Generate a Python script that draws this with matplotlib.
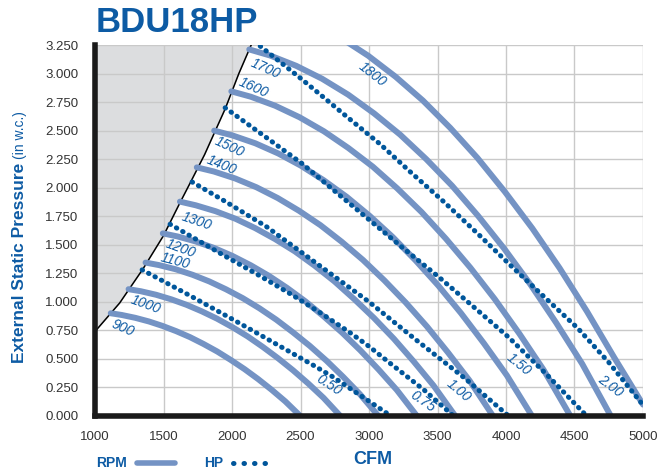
import matplotlib.pyplot as plt
from matplotlib.lines import Line2D

plt.rcParams['font.family'] = ['Liberation Sans', 'DejaVu Sans']

TXT_BLUE = '#0d5ba4'
RPM_COL = '#7493c4'
HP_COL = '#00569b'

# x ticks / y ticks
cfm_ticks = [1000, 1500, 2000, 2500, 3000, 3500, 4000, 4500, 5000]
p_ticks = [0.0, 0.25, 0.5, 0.75, 1.0, 1.25, 1.5, 1.75, 2.0, 2.25, 2.5, 2.75, 3.0, 3.25]

# operating limit (grey area lies above it)
limit_cfm = [1000, 1180, 1351, 1500, 1621, 1694, 1800, 1950, 2050, 2140]
limit_p = [0.74, 0.99, 1.29, 1.58, 1.87, 2.04, 2.29, 2.69, 3.00, 3.25]

# fan curves (RPM)
rpm900_cfm = [1115, 1195, 1294, 1394, 1493, 1593, 1693, 1792, 1892, 1991, 2091, 2190, 2290, 2389, 2499]
rpm900_p = [0.900, 0.885, 0.860, 0.828, 0.789, 0.743, 0.691, 0.631, 0.565, 0.491, 0.411, 0.324, 0.229, 0.128, 0.0]
rpm1000_cfm = [1245, 1334, 1446, 1557, 1668, 1779, 1890, 2002, 2113, 2224, 2335, 2446, 2558, 2669, 2791]
rpm1000_p = [1.111, 1.093, 1.062, 1.022, 0.974, 0.917, 0.853, 0.779, 0.698, 0.606, 0.507, 0.400, 0.283, 0.158, 0.0]
rpm1100_cfm = [1369, 1467, 1590, 1712, 1834, 1956, 2079, 2201, 2323, 2445, 2568, 2690, 2812, 2934, 3069]
rpm1100_p = [1.344, 1.322, 1.285, 1.237, 1.179, 1.110, 1.032, 0.943, 0.844, 0.733, 0.614, 0.484, 0.342, 0.191, 0.0]
rpm1200_cfm = [1495, 1602, 1735, 1869, 2002, 2136, 2269, 2402, 2536, 2669, 2803, 2936, 3070, 3203, 3350]
rpm1200_p = [1.600, 1.573, 1.529, 1.472, 1.403, 1.321, 1.228, 1.122, 1.004, 0.873, 0.731, 0.576, 0.407, 0.228, 0.0]
rpm1300_cfm = [1620, 1735, 1880, 2025, 2169, 2314, 2459, 2603, 2748, 2892, 3037, 3182, 3326, 3471, 3630]
rpm1300_p = [1.878, 1.846, 1.794, 1.728, 1.646, 1.550, 1.442, 1.317, 1.179, 1.024, 0.858, 0.676, 0.478, 0.267, 0.0]
rpm1400_cfm = [1743, 1867, 2023, 2178, 2334, 2489, 2645, 2800, 2956, 3112, 3267, 3423, 3578, 3734, 3905]
rpm1400_p = [2.178, 2.142, 2.081, 2.004, 1.909, 1.798, 1.672, 1.527, 1.367, 1.188, 0.995, 0.784, 0.554, 0.310, 0.0]
rpm1500_cfm = [1870, 2003, 2170, 2337, 2504, 2671, 2838, 3005, 3172, 3339, 3506, 3672, 3839, 4006, 4190]
rpm1500_p = [2.500, 2.458, 2.389, 2.300, 2.192, 2.064, 1.919, 1.753, 1.569, 1.364, 1.142, 0.900, 0.636, 0.356, 0.0]
rpm1600_cfm = [1995, 2137, 2315, 2493, 2671, 2849, 3028, 3206, 3384, 3562, 3740, 3918, 4096, 4274, 4470]
rpm1600_p = [2.844, 2.797, 2.718, 2.617, 2.494, 2.348, 2.184, 1.994, 1.786, 1.552, 1.299, 1.024, 0.724, 0.405, 0.0]
rpm1700_cfm = [2126, 2278, 2468, 2658, 2848, 3037, 3227, 3417, 3607, 3797, 3987, 4176, 4366, 4556, 4765]
rpm1700_p = [3.211, 3.158, 3.068, 2.954, 2.815, 2.651, 2.465, 2.251, 2.016, 1.752, 1.466, 1.156, 0.817, 0.457, 0.0]
rpm1800_cfm = [2794, 2994, 3194, 3393, 3593, 3792, 3992, 4192, 4391, 4591, 4790, 5000]
rpm1800_p = [3.312, 3.156, 2.972, 2.764, 2.524, 2.260, 1.964, 1.644, 1.296, 0.916, 0.512, 0.100]

# horsepower curves
hp050_cfm = [1344, 1500, 1700, 2000, 2250, 2425, 2600, 2740, 2900, 3000, 3160]
hp050_p = [1.28, 1.18, 1.05, 0.85, 0.68, 0.56, 0.44, 0.34, 0.21, 0.13, 0.0]
hp075_cfm = [1548, 1750, 1950, 2200, 2440, 2650, 2850, 3000, 3156, 3400, 3617]
hp075_p = [1.68, 1.54, 1.40, 1.23, 1.06, 0.90, 0.74, 0.61, 0.46, 0.23, 0.0]
hp100_cfm = [1709, 1950, 2250, 2500, 2750, 3000, 3340, 3700, 4019]
hp100_p = [2.05, 1.88, 1.66, 1.44, 1.22, 1.00, 0.67, 0.33, 0.0]
hp150_cfm = [1950, 2250, 2513, 2750, 3000, 3250, 3507, 3750, 4019, 4300, 4589]
hp150_p = [2.70, 2.44, 2.21, 1.97, 1.72, 1.47, 1.22, 0.97, 0.69, 0.36, 0.0]
hp200_cfm = [2206, 2499, 2660, 2850, 3083, 3300, 3543, 3800, 4050, 4300, 4523, 4750, 4984]
hp200_p = [3.24, 2.96, 2.80, 2.61, 2.38, 2.14, 1.88, 1.59, 1.30, 1.02, 0.77, 0.47, 0.12]

rpm_names = ['900', '1000', '1100', '1200', '1300', '1400', '1500', '1600', '1700', '1800']
hp_names = ['0.50', '0.75', '1.00', '1.50', '2.00']

rpm_curves = [(rpm900_cfm, rpm900_p), (rpm1000_cfm, rpm1000_p), (rpm1100_cfm, rpm1100_p),
              (rpm1200_cfm, rpm1200_p), (rpm1300_cfm, rpm1300_p), (rpm1400_cfm, rpm1400_p),
              (rpm1500_cfm, rpm1500_p), (rpm1600_cfm, rpm1600_p), (rpm1700_cfm, rpm1700_p),
              (rpm1800_cfm, rpm1800_p)]
hp_curves = [(hp050_cfm, hp050_p), (hp075_cfm, hp075_p), (hp100_cfm, hp100_p),
             (hp150_cfm, hp150_p), (hp200_cfm, hp200_p)]

# where the curve labels sit (cfm, pressure, angle)
rpm_label_pos = [(1204, 0.77, -24), (1372, 0.98, -20), (1584, 1.36, -15), (1628, 1.47, -20),
                 (1745, 1.71, -19), (1927, 2.20, -22), (1978, 2.36, -25), (2155, 2.88, -24),
                 (2243, 3.04, -24), (3022, 2.99, -38)]
hp_label_pos = [(2708, 0.27, -33), (3394, 0.13, -35), (3657, 0.22, -40),
                (4095, 0.45, -39), (4759, 0.26, -37)]

fig = plt.figure(figsize=(6.71, 4.75), dpi=100)
ax = fig.add_axes([95 / 671, 1 - 416 / 475, 548 / 671, 371 / 475])

ax.fill_between(limit_cfm, limit_p, 3.25, color='#dcdddf', zorder=0, lw=0)
ax.plot(limit_cfm, limit_p, color='black', lw=1.1, zorder=2)

for q, p in rpm_curves:
    ax.plot(q, p, color=RPM_COL, lw=4.3, solid_capstyle='round', zorder=3)
for q, p in hp_curves:
    ax.plot(q, p, color=HP_COL, lw=3.6, linestyle=(0, (0.1, 1.35)),
            dash_capstyle='round', zorder=4)

for name, (x, y, r) in zip(rpm_names, rpm_label_pos):
    ax.text(x, y, name, color=TXT_BLUE, fontsize=10, style='italic', rotation=r,
            rotation_mode='anchor', ha='center', va='center', zorder=5)
for name, (x, y, r) in zip(hp_names, hp_label_pos):
    ax.text(x, y, name, color=TXT_BLUE, fontsize=10, style='italic', rotation=r,
            rotation_mode='anchor', ha='center', va='center', zorder=5)

ax.set_xlim(1000, 5000)
ax.set_ylim(0, 3.25)
ax.set_xticks(cfm_ticks)
ax.set_yticks(p_ticks)
ax.set_yticklabels(['%.3f' % v for v in p_ticks])
ax.grid(True, color='#c9c9c9', lw=1.0, zorder=1)
ax.set_axisbelow(True)
ax.tick_params(length=0, labelsize=9.5, labelcolor='#333333')
ax.tick_params(axis='x', pad=11)
ax.tick_params(axis='y', pad=12)

for s in ['top', 'right']:
    ax.spines[s].set_visible(False)
for s in ['left', 'bottom']:
    ax.spines[s].set_linewidth(4)
    ax.spines[s].set_color('#1a1a1a')
    ax.spines[s].set_zorder(6)

# title
fig.text(96 / 671, 1 - 23 / 475, 'BDU18HP', fontsize=25, fontweight='bold',
         color=TXT_BLUE, ha='left', va='center')

# y label in two parts (bold + normal)
t1 = fig.text(20 / 671, 1 - 363 / 475, 'External Static Pressure', rotation=90,
              fontsize=12.5, fontweight='bold', color=TXT_BLUE, ha='center', va='bottom')
fig.canvas.draw()
bb = t1.get_window_extent()
fig.text(20 / 671, (bb.y1 + 4) / fig.bbox.height, '(in w.c.)', rotation=90,
         fontsize=10, color=TXT_BLUE, ha='center', va='bottom')

# legend along the bottom
fig.text(96 / 671, 1 - 463 / 475, 'RPM', fontsize=10, fontweight='bold',
         color=TXT_BLUE, ha='left', va='center')
fig.add_artist(Line2D([137 / 671, 175 / 671], [1 - 463 / 475] * 2, color=RPM_COL,
                      lw=4, solid_capstyle='round', transform=fig.transFigure))
fig.text(204 / 671, 1 - 463 / 475, 'HP', fontsize=10, fontweight='bold',
         color=TXT_BLUE, ha='left', va='center')
fig.add_artist(Line2D([233 / 671, 266 / 671], [1 - 463 / 475] * 2, color=HP_COL,
                      lw=3.6, linestyle=(0, (0.1, 2.0)), dash_capstyle='round',
                      transform=fig.transFigure))
fig.text(373 / 671, 1 - 460 / 475, 'CFM', fontsize=13, fontweight='bold',
         color=TXT_BLUE, ha='center', va='center')

fig.savefig('out.png', dpi=100)
